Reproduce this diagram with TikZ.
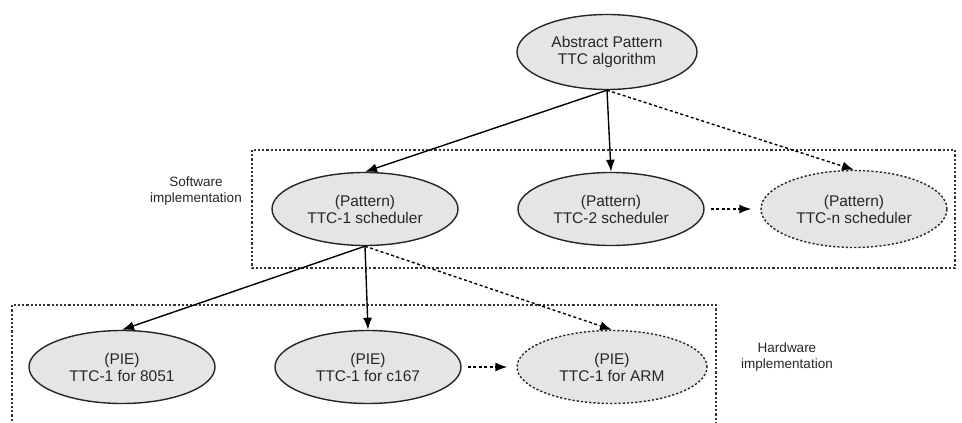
\documentclass[tikz,border=0pt]{standalone}
\usepackage{fontspec}
\setmainfont{Liberation Sans}
\usetikzlibrary{shapes.geometric,arrows.meta}
\begin{document}
\begin{tikzpicture}[x=1pt,y=-1pt,
  ell/.style={ellipse, draw=black!85, line width=1.4pt, fill=black!10, minimum width=186pt, minimum height=73pt, inner sep=0pt, align=center, font=\fontsize{15.5}{17}\selectfont, text=black!85},
  ellopt/.style={ell, dash pattern=on 2.2pt off 2pt},
  arr/.style={line width=1.4pt, -{Latex[length=12pt,width=9pt]}},
  darr/.style={arr, dash pattern=on 3pt off 2.5pt},
  grp/.style={line width=1.3pt, dash pattern=on 2.2pt off 2pt, black!80},
  lbl/.style={align=center, font=\fontsize{13.5}{16}\selectfont, text=black!85}]
\useasboundingbox (0,0) rectangle (962,423);
\node[ell, minimum width=180pt, minimum height=75pt] (abs) at (607,52) {Abstract Pattern\\TTC algorithm};
\node[ell] (s1) at (365,209) {(Pattern)\\TTC-1 scheduler};
\node[ell] (s2) at (611,209) {(Pattern)\\TTC-2 scheduler};
\node[ellopt, minimum height=77pt] (sn) at (854,209) {(Pattern)\\TTC-n scheduler};
\node[ell] (h1) at (122,367) {(PIE)\\TTC-1 for 8051};
\node[ell] (h2) at (368,367) {(PIE)\\TTC-1 for c167};
\node[ellopt, minimum width=190pt] (h3) at (612,367) {(PIE)\\TTC-1 for ARM};
\node[lbl] (swl) at (196,191) {Software\\implementation};
\node[lbl] (hwl) at (787,357) {Hardware\\implementation};
\coordinate (sw1) at (252,150);
\coordinate (sw2) at (955,268);
\draw[grp] (sw1) rectangle (sw2);
\coordinate (hwa) at (12,425);
\coordinate (hwb) at (12,305);
\coordinate (hwc) at (716,305);
\coordinate (hwd) at (716,425);
\draw[grp] (hwa) -- (hwb) -- (hwc) -- (hwd);
\draw[arr] (abs.south) -- (s1.north);
\draw[arr] (abs.south) -- (s2.north);
\draw[darr] (abs.south) -- (sn.north);
\draw[darr, shorten <=6pt, shorten >=9pt] (s2) -- (sn);
\draw[arr] (s1.south) -- (h1.north);
\draw[arr] (s1.south) -- (h2.north);
\draw[darr] (s1.south) -- (h3.north);
\draw[darr, shorten <=6pt, shorten >=9pt] (h2) -- (h3);
\end{tikzpicture}
\end{document}
